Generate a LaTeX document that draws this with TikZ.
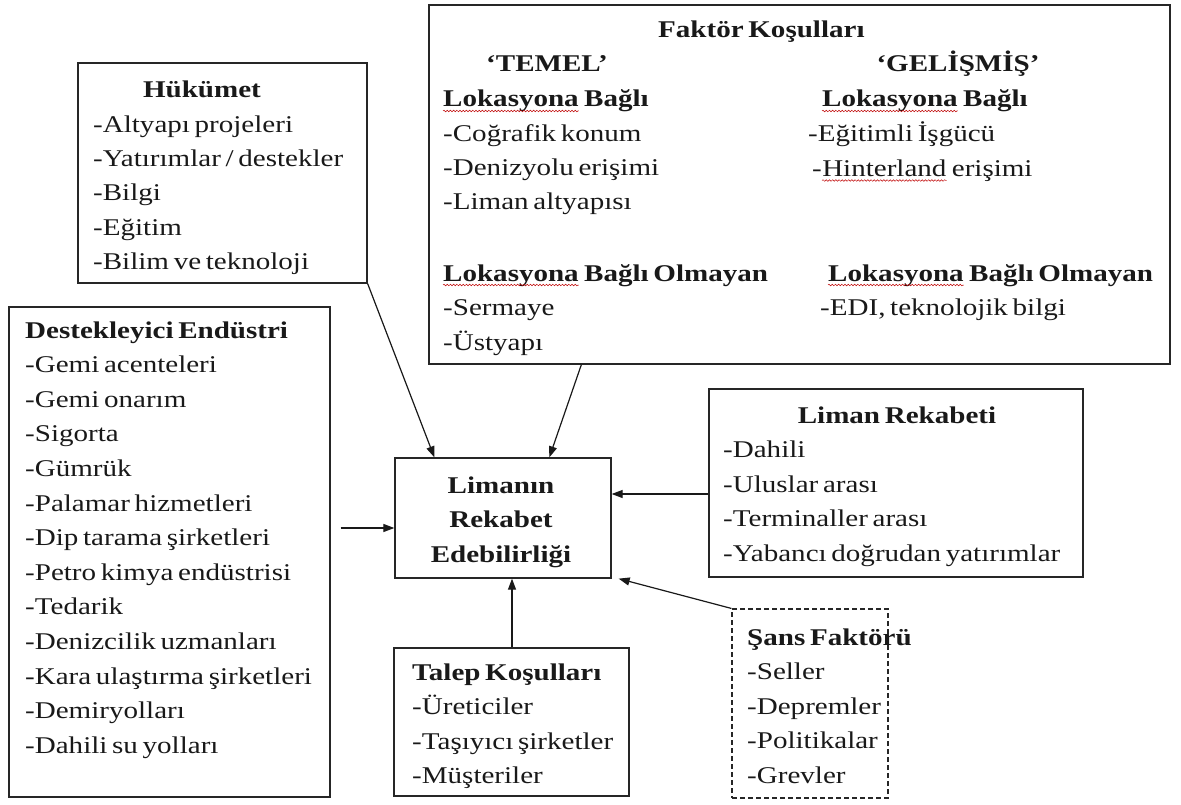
\documentclass[tikz,border=0pt]{standalone}
\usepackage{fontspec}
\setmainfont{Liberation Serif}[FakeStretch=1.21, WordSpace=0.65]
\usetikzlibrary{arrows.meta,calc,decorations.pathmorphing}

\begin{document}
\begin{tikzpicture}[x=1pt,y=-1pt,
  box/.style={draw=black!85, line width=1.3pt, rectangle, inner sep=0pt},
  txt/.style={inner sep=0pt, font=\fontsize{24}{34.5}\selectfont, text=black!90},
  hd/.style={inner sep=0pt, font=\fontsize{24}{34.5}\selectfont\bfseries, text=black!90},
  arr/.style={draw=black!90, line width=1.2pt, -{Triangle[length=11pt,width=8pt]}},
  wavy/.style={draw=red!75!black, line width=0.5pt, decorate,
    decoration={snake, amplitude=0.8pt, segment length=3.2pt}}]

\fill[white] (0,0) rectangle (1181,805);
\useasboundingbox (0,0) rectangle (1181,805);

% ---- boxes ----
\node[box, minimum width=741pt, minimum height=359pt] (fak) at (799.5,184.5) {};
\node[box, minimum width=289pt, minimum height=220pt] (huk) at (222.5,173) {};
\node[box, minimum width=321pt, minimum height=490pt] (des) at (169.5,552) {};
\node[box, minimum width=216pt, minimum height=120pt] (cen) at (503,518) {};
\node[box, minimum width=374pt, minimum height=188pt] (lim) at (896,483) {};
\node[box, minimum width=235pt, minimum height=148pt] (tal) at (511.5,722) {};
\node[box, dash pattern=on 5pt off 3pt, line width=1.1pt,
      minimum width=156pt, minimum height=189pt] (san) at (810,703.5) {};

% ---- central box ----
\node[hd, anchor=base] (c1) at (501,493) {Limanın};
\node[hd, anchor=base] (c2) at (501,527.5) {Rekabet};
\node[hd, anchor=base] (c3) at (501,562) {Edebilirliği};

% ---- Hükümet ----
\node[hd, anchor=base] (hukt) at (202,98) {Hükümet};
\foreach \t [count=\i] in {{-Altyapı projeleri},{-Yatırımlar / destekler},{-Bilgi},{-Eğitim},{-Bilim ve teknoloji}}
  \node[txt, anchor=base west] (huk\i) at (93,{98+34.3*\i}) {\t};

% ---- Destekleyici Endüstri ----
\node[hd, anchor=base west] (dest) at (25,338) {Destekleyici Endüstri};
\foreach \t [count=\i] in {{-Gemi acenteleri},{-Gemi onarım},{-Sigorta},{-Gümrük},
  {-Palamar hizmetleri},{-Dip tarama şirketleri},{-Petro kimya endüstrisi},{-Tedarik},
  {-Denizcilik uzmanları},{-Kara ulaştırma şirketleri},{-Demiryolları},{-Dahili su yolları}}
  \node[txt, anchor=base west] (des\i) at (25,{338+34.6*\i}) {\t};

% ---- Liman Rekabeti ----
\node[hd, anchor=base] (limt) at (897,423) {Liman Rekabeti};
\foreach \t [count=\i] in {{-Dahili},{-Uluslar arası},{-Terminaller arası},{-Yabancı doğrudan yatırımlar}}
  \node[txt, anchor=base west] (lim\i) at (723,{423+34.5*\i}) {\t};

% ---- Talep Koşulları ----
\node[hd, anchor=base west] (talt) at (412,680) {Talep Koşulları};
\foreach \t [count=\i] in {{-Üreticiler},{-Taşıyıcı şirketler},{-Müşteriler}}
  \node[txt, anchor=base west] (tal\i) at (412,{680+34.5*\i}) {\t};

% ---- Şans Faktörü ----
\node[hd, anchor=base west] (sant) at (747,645) {Şans Faktörü};
\foreach \t [count=\i] in {{-Seller},{-Depremler},{-Politikalar},{-Grevler}}
  \node[txt, anchor=base west] (san\i) at (747,{645+34.5*\i}) {\t};

% ---- Faktör Koşulları ----
\node[hd, anchor=base west] (fakt) at (658,38) {Faktör Koşulları};
\node[hd, anchor=base] (temel) at (547,72) {‘TEMEL’};
\node[hd, anchor=base] (gelis) at (958,72) {‘GELİŞMİŞ’};

% left column
\node[hd, anchor=base west] (la1) at (443,107) {Lokasyona};
\node[hd, anchor=base west] (la2) at ([xshift=5pt]la1.base east) {Bağlı};
\foreach \t [count=\i] in {{-Coğrafik konum},{-Denizyolu erişimi},{-Liman altyapısı}}
  \node[txt, anchor=base west] (lt\i) at (443,{107+34.3*\i}) {\t};
\node[hd, anchor=base west] (lb1) at (443,281) {Lokasyona};
\node[hd, anchor=base west] (lb2) at ([xshift=5pt]lb1.base east) {Bağlı Olmayan};
\foreach \t [count=\i] in {{-Sermaye},{-Üstyapı}}
  \node[txt, anchor=base west] (lu\i) at (443,{281+34.5*\i}) {\t};

% right column
\node[hd, anchor=base west] (ra1) at (822,107) {Lokasyona};
\node[hd, anchor=base west] (ra2) at ([xshift=5pt]ra1.base east) {Bağlı};
\node[txt, anchor=base west] (rt1) at (808,142) {-Eğitimli İşgücü};
\node[txt, anchor=base west] (rt2) at (812,176.5) {-};
\node[txt, anchor=base west] (rt3) at (rt2.base east) {Hinterland};
\node[txt, anchor=base west] (rt4) at ([xshift=5pt]rt3.base east) {erişimi};
\node[hd, anchor=base west] (rb1) at (828,281) {Lokasyona};
\node[hd, anchor=base west] (rb2) at ([xshift=5pt]rb1.base east) {Bağlı Olmayan};
\node[txt, anchor=base west] (ru1) at (820,315.5) {-EDI, teknolojik bilgi};

% spell-check underlines
\foreach \w in {la1,lb1,ra1,rb1,rt3}
  \draw[wavy] ([yshift=-4pt]\w.base west) -- ([yshift=-4pt]\w.base east);

% ---- connectors ----
\coordinate (hin) at ([xshift=40pt]cen.north west);
\coordinate (fin) at ([xshift=155pt]cen.north west);
\coordinate (fout) at ([xshift=153pt]fak.south west);
\coordinate (lin) at ([yshift=24pt]cen.east);
\coordinate (din) at ([yshift=-10pt]cen.west);
\coordinate (tin) at ([xshift=9pt]cen.south);
\coordinate (sin) at ([xshift=7pt]cen.south east);

\draw[arr] (huk.south east) -- (hin);
\draw[arr] (fout) -- (fin);
\draw[arr] (lim.west |- lin) -- (lin);
\draw[arr] ($(des.east |- din)+(10,0)$) -- (din);
\draw[arr] (tal.north -| tin) -- (tin);
\draw[arr] (san.north west) -- (sin);

\end{tikzpicture}
\end{document}
